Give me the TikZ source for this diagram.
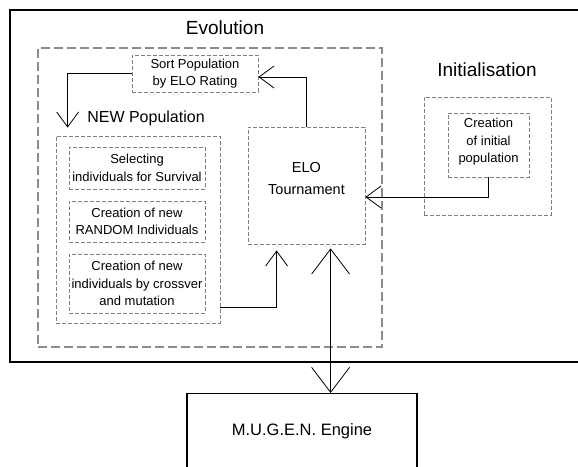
\documentclass[tikz,border=0pt]{standalone}
\usepackage{fontspec}
\setmainfont{Liberation Sans}
\usetikzlibrary{arrows.meta}

\tikzset{
  outerline/.style={draw=black, line width=1.8pt},
  bigdash/.style={draw=gray!90, line width=1.3pt, dash pattern=on 9pt off 4pt},
  groupbox/.style={draw=gray, line width=0.8pt, dash pattern=on 4pt off 2pt, inner sep=0pt},
  smallbox/.style={draw=gray, line width=0.8pt, dash pattern=on 4pt off 2pt, inner sep=0pt,
    align=center, font=\fontsize{13}{17.5}\selectfont},
  title/.style={font=\fontsize{19}{22}\selectfont},
  subtitle/.style={font=\fontsize{16}{19}\selectfont},
  link/.style={draw=black, line width=0.8pt, -{Straight Barb[length=15pt,width=22pt]}},
  biglink/.style={draw=black, line width=0.8pt, {Straight Barb[length=25pt,width=38pt]}-{Straight Barb[length=25pt,width=38pt]}}
}

\begin{document}
\begin{tikzpicture}[x=1pt,y=-1pt]

        \useasboundingbox (0,0) rectangle (578,466);

        %Outer frame (right side runs off the page)
        \draw[outerline] (600,10) -- (10,10) -- (10,362) -- (600,362);

        %Evolution part
        \node[title] (evolab) at (225,28) {Evolution};
        \node[bigdash, minimum width=344pt, minimum height=299pt] (evo) at (210,197.5) {};
        \node[smallbox, minimum width=126pt, minimum height=37pt] (sort) at (195,73.5) {Sort Population\\by ELO Rating};

        %New population group
        \node[subtitle] (newlab) at (146,118) {NEW Population};
        \node[groupbox, minimum width=164pt, minimum height=187pt] (newpop) at (138,229.5) {};
        \node[smallbox, minimum width=136pt, minimum height=42pt] (select) at (137,168) {Selecting\\individuals for Survival};
        \node[smallbox, minimum width=136pt, minimum height=41pt] (random) at (137,221.5) {Creation of new\\RANDOM Individuals};
        \node[smallbox, minimum width=136pt, minimum height=59pt] (cross) at (137,283.5) {Creation of new\\individuals by crossver\\and mutation};

        %Tournament
        \node[groupbox, minimum width=117pt, minimum height=117pt] (elo) at (306.5,185.5) {};
        \node[align=center, font=\fontsize{14.5}{22}\selectfont] (elotext) at ([yshift=6.5pt]elo.center) {ELO\\Tournament};

        %Initialisation part
        \node[title] (initlab) at (487,70) {Initialisation};
        \node[groupbox, minimum width=127pt, minimum height=118pt] (init) at (487.5,156) {};
        \node[groupbox, minimum width=81pt, minimum height=64pt] (cinit) at (488.5,145) {};
        \node[align=center, font=\fontsize{13}{17.5}\selectfont] (cinittext) at ([yshift=3pt]cinit.center) {Creation\\of initial\\population};

        %Engine (bottom runs off the page)
        \node[draw=black, line width=1.2pt, minimum width=230pt, minimum height=76pt, anchor=north,
              font=\fontsize{16.5}{19}\selectfont] (mugen) at (302,393) {M.U.G.E.N. Engine};

        %Connectors
        \draw[link, shorten >=8pt] (sort.west) -| ([xshift=12pt]newpop.north west);
        \draw[link] (elo.north) |- ([yshift=-3.5pt]sort.east);
        \draw[link, shorten >=6pt] ([yshift=16pt]newpop.south east) -| ([xshift=29pt]elo.south west);
        \draw[link] (cinit.south) |- ([yshift=-11.5pt]elo.east);
        \draw[biglink, shorten <=4pt] ([xshift=83pt]elo.south west) -- ([xshift=83pt]elo.south west |- mugen.north);

\end{tikzpicture}
\end{document}
